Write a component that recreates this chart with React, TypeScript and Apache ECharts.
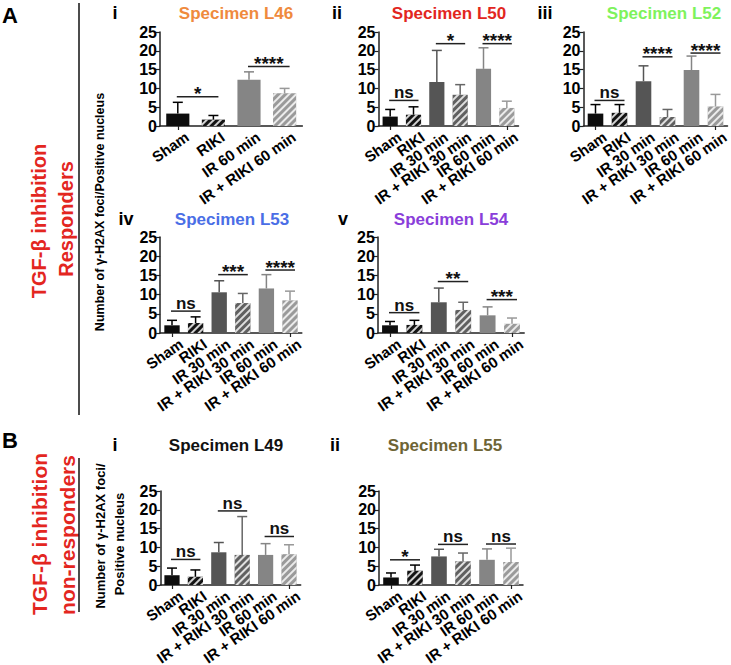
import React, { useEffect, useRef } from "react";
import * as echarts from "echarts";

const categories6 = ["Sham", "RIKI", "IR 30 min", "IR + RIKI 30 min", "IR 60 min", "IR + RIKI 60 min"];
const categories4 = ["Sham", "RIKI", "IR 60 min", "IR + RIKI 60 min"];
const yTickMax = 25;
const yTickStep = 5;

// Specimen L46
const l46Mean = [3.3, 1.7, 12.3, 8.7];
const l46Err = [3.0, 1.1, 2.1, 1.3];
const l46Sig: [number, number, number, string][] = [[0, 1, 7.8, "*"], [2, 3, 15.8, "****"]];
// Specimen L50
const l50Mean = [2.5, 3.0, 11.7, 8.3, 15.2, 4.8];
const l50Err = [1.9, 2.1, 8.4, 2.7, 5.6, 1.8];
const l50Sig: [number, number, number, string][] = [[0, 1, 6.8, "ns"], [2, 3, 21.9, "*"], [4, 5, 21.9, "****"]];
// Specimen L52
const l52Mean = [3.3, 3.5, 11.9, 2.4, 14.9, 5.2];
const l52Err = [2.4, 2.2, 4.1, 2.0, 3.7, 3.2];
const l52Sig: [number, number, number, string][] = [[0, 1, 6.8, "ns"], [2, 3, 18.4, "****"], [4, 5, 19.4, "****"]];
// Specimen L53
const l53Mean = [2.0, 2.6, 10.6, 7.8, 11.6, 8.5];
const l53Err = [1.3, 1.6, 3.0, 2.5, 3.6, 2.4];
const l53Sig: [number, number, number, string][] = [[0, 1, 5.7, "ns"], [2, 3, 15.2, "***"], [4, 5, 16.4, "****"]];
// Specimen L54
const l54Mean = [2.0, 2.1, 8.0, 6.0, 4.6, 2.4];
const l54Err = [1.0, 1.2, 3.7, 2.0, 2.2, 1.5];
const l54Sig: [number, number, number, string][] = [[0, 1, 5.3, "ns"], [2, 3, 13.4, "**"], [4, 5, 8.7, "***"]];
// Specimen L49
const l49Mean = [2.6, 2.2, 8.7, 8.0, 8.0, 8.2];
const l49Err = [1.9, 1.8, 2.6, 10.2, 3.0, 2.5];
const l49Sig: [number, number, number, string][] = [[0, 1, 6.8, "ns"], [2, 3, 19.7, "ns"], [4, 5, 12.9, "ns"]];
// Specimen L55
const l55Mean = [2.0, 3.8, 7.6, 6.3, 6.7, 6.1];
const l55Err = [1.2, 1.5, 1.9, 2.2, 2.9, 3.7];
const l55Sig: [number, number, number, string][] = [[0, 1, 6.7, "*"], [2, 3, 10.8, "ns"], [4, 5, 10.9, "ns"]];

const FONT = "'Liberation Sans', Arial, Helvetica, sans-serif";

const catStyle: Record<string, { fill: string; hatch: boolean; err: string }> = {
  "Sham": { fill: "#0d0d0d", hatch: false, err: "#000000" },
  "RIKI": { fill: "#141414", hatch: true, err: "#000000" },
  "IR 30 min": { fill: "#555555", hatch: false, err: "#555555" },
  "IR + RIKI 30 min": { fill: "#606060", hatch: true, err: "#666666" },
  "IR 60 min": { fill: "#858585", hatch: false, err: "#858585" },
  "IR + RIKI 60 min": { fill: "#9a9a9a", hatch: true, err: "#999999" },
};

const panels = [
  { num: "i", title: "Specimen L46", color: "#EF8A3D", cats: categories4, mean: l46Mean, err: l46Err, sig: l46Sig,
    grid: { left: 160, top: 32, width: 142.4, height: 94 }, tx: 236, ty: 13, nx: 115, ny: 13 },
  { num: "ii", title: "Specimen L50", color: "#E2261E", cats: categories6, mean: l50Mean, err: l50Err, sig: l50Sig,
    grid: { left: 378.5, top: 32, width: 140, height: 94 }, tx: 449, ty: 13, nx: 337, ny: 13 },
  { num: "iii", title: "Specimen L52", color: "#7EF25C", cats: categories6, mean: l52Mean, err: l52Err, sig: l52Sig,
    grid: { left: 583.5, top: 32, width: 144, height: 94 }, tx: 664, ty: 13, nx: 545, ny: 13 },
  { num: "iv", title: "Specimen L53", color: "#4A6EE6", cats: categories6, mean: l53Mean, err: l53Err, sig: l53Sig,
    grid: { left: 160.2, top: 237, width: 141.6, height: 96 }, tx: 232, ty: 219, nx: 126, ny: 219 },
  { num: "v", title: "Specimen L54", color: "#8A3EDA", cats: categories6, mean: l54Mean, err: l54Err, sig: l54Sig,
    grid: { left: 377.8, top: 237, width: 146.4, height: 96 }, tx: 451, ty: 219, nx: 343, ny: 219 },
  { num: "i", title: "Specimen L49", color: "#111111", cats: categories6, mean: l49Mean, err: l49Err, sig: l49Sig,
    grid: { left: 160.3, top: 491, width: 140.4, height: 94 }, tx: 226, ty: 445, nx: 115, ny: 445 },
  { num: "ii", title: "Specimen L55", color: "#6E6435", cats: categories6, mean: l55Mean, err: l55Err, sig: l55Sig,
    grid: { left: 379, top: 491, width: 144, height: 94 }, tx: 445, ty: 445, nx: 335, ny: 445 },
];

const LABEL_ROT = (35 * Math.PI) / 180;

function buildOption() {
  const grids: any[] = [];
  const xAxes: any[] = [];
  const yAxes: any[] = [];
  const series: any[] = [];
  const graphics: any[] = [];

  panels.forEach((p, i) => {
    grids.push({ ...p.grid, containLabel: false });
    xAxes.push({
      type: "category",
      gridIndex: i,
      data: p.cats,
      boundaryGap: true,
      axisLine: { show: true, lineStyle: { color: "#222", width: 1.5 } },
      axisTick: { show: true, alignWithLabel: true, length: 4, lineStyle: { color: "#222", width: 1.2 } },
      axisLabel: { show: false },
    });
    yAxes.push({
      type: "value",
      gridIndex: i,
      min: 0,
      max: yTickMax,
      interval: yTickStep,
      axisLine: { show: true, lineStyle: { color: "#222", width: 1.5 } },
      axisTick: { show: true, length: 4, lineStyle: { color: "#222", width: 1.2 } },
      splitLine: { show: false },
      axisLabel: { fontSize: 16, fontWeight: "bold", color: "#000", margin: 3, fontFamily: FONT },
    });
    series.push({
      type: "bar",
      xAxisIndex: i,
      yAxisIndex: i,
      barWidth: "65%",
      data: p.mean.map((v, j) => {
        const st = catStyle[p.cats[j]];
        return {
          value: v,
          itemStyle: {
            color: st.fill,
            decal: st.hatch
              ? { symbol: "rect", symbolSize: 1, dashArrayX: [1, 0], dashArrayY: [2, 2.2], rotation: -Math.PI / 4, color: "rgba(255,255,255,0.8)" }
              : "none",
          },
        };
      }),
    });
    const errColors = p.cats.map((c) => catStyle[c].err);
    series.push({
      type: "custom",
      xAxisIndex: i,
      yAxisIndex: i,
      z: 3,
      data: p.mean.map((v, j) => [j, v, v + p.err[j]]),
      renderItem: (params: any, api: any) => {
        const j = api.value(0);
        const a = api.coord([j, api.value(1)]);
        const b = api.coord([j, api.value(2)]);
        const c = errColors[j];
        return {
          type: "group",
          children: [
            { type: "line", shape: { x1: a[0], y1: a[1], x2: b[0], y2: b[1] }, style: { stroke: c, lineWidth: 1.5 } },
            { type: "line", shape: { x1: b[0] - 5, y1: b[1], x2: b[0] + 5, y2: b[1] }, style: { stroke: c, lineWidth: 1.5 } },
          ],
        };
      },
    });
    // category labels (rotated), placed through the axis scale
    const cats = p.cats;
    series.push({
      type: "custom",
      xAxisIndex: i,
      yAxisIndex: i,
      z: 5,
      clip: false,
      data: cats.map((c, j) => [j, 0]),
      renderItem: (params: any, api: any) => {
        const j = api.value(0);
        const a = api.coord([j, 0]);
        return {
          type: "text",
          x: a[0] + 5,
          y: a[1] + 3,
          rotation: LABEL_ROT,
          style: {
            text: cats[j],
            align: "right",
            verticalAlign: "top",
            fontSize: 15,
            fontWeight: "bold",
            fontFamily: FONT,
            fill: "#000",
          },
        };
      },
    });
    const sigLabels = p.sig.map((s) => s[3]);
    series.push({
      type: "custom",
      xAxisIndex: i,
      yAxisIndex: i,
      z: 4,
      clip: false,
      data: p.sig.map((s) => [s[0], s[2], s[1]]),
      renderItem: (params: any, api: any) => {
        const a = api.coord([api.value(0), api.value(1)]);
        const b = api.coord([api.value(2), api.value(1)]);
        const label = sigLabels[params.dataIndex];
        const x1 = a[0] - 1;
        const x2 = b[0] + 5;
        const isStar = label.indexOf("*") >= 0;
        return {
          type: "group",
          children: [
            { type: "line", shape: { x1, y1: a[1], x2, y2: a[1] }, style: { stroke: "#222", lineWidth: 1.5 } },
            {
              type: "text",
              x: (x1 + x2) / 2,
              y: isStar ? a[1] - 3 : a[1] + 1,
              style: {
                text: label,
                align: "center",
                verticalAlign: isStar ? "middle" : "bottom",
                fontSize: isStar ? 19 : 17,
                fontWeight: "bold",
                fontFamily: FONT,
                fill: "#111",
              },
            },
          ],
        };
      },
    });
    graphics.push({
      type: "text", x: p.tx, y: p.ty,
      style: { text: p.title, fill: p.color, fontSize: 17, fontWeight: "bold", fontFamily: FONT, align: "center", verticalAlign: "middle" },
    });
    graphics.push({
      type: "text", x: p.nx, y: p.ny,
      style: { text: p.num, fill: "#000", fontSize: 18, fontWeight: "bold", fontFamily: FONT, align: "center", verticalAlign: "middle" },
    });
  });

  const red = "#E3261F";
  const rotText = (text: string, x: number, y: number, size: number, fill: string) => ({
    type: "text", x, y, rotation: Math.PI / 2,
    style: { text, fill, fontSize: size, fontWeight: "bold", fontFamily: FONT, align: "center", verticalAlign: "middle" },
  });
  graphics.push(
    { type: "text", x: 10, y: 15, style: { text: "A", fill: "#000", fontSize: 22, fontWeight: "bold", fontFamily: FONT, align: "center", verticalAlign: "middle" } },
    { type: "text", x: 10, y: 440, style: { text: "B", fill: "#000", fontSize: 22, fontWeight: "bold", fontFamily: FONT, align: "center", verticalAlign: "middle" } },
    rotText("TGF-β inhibition", 39, 221, 20, red),
    rotText("Responders", 66, 219, 20, red),
    rotText("TGF-β inhibition", 39, 534, 21, red),
    rotText("non-responders", 67, 535, 21, red),
    { type: "line", shape: { x1: 79, y1: 3, x2: 79, y2: 415 }, style: { stroke: "#111", lineWidth: 1.5 } },
    { type: "line", shape: { x1: 79, y1: 458, x2: 79, y2: 612 }, style: { stroke: "#111", lineWidth: 1.5 } },
    rotText("Number of γ-H2AX foci/Positive nucleus", 100, 212, 12.5, "#000"),
    rotText("Number of γ-H2AX foci/", 100, 536, 13, "#000"),
    rotText("Positive nucleus", 119, 544, 13, "#000"),
  );

  return {
    animation: false,
    backgroundColor: "#ffffff",
    textStyle: { fontFamily: FONT },
    grid: grids,
    xAxis: xAxes,
    yAxis: yAxes,
    series,
    graphic: graphics,
  };
}

export default function App() {
  const ref = useRef<HTMLDivElement>(null);
  useEffect(() => {
    if (!ref.current) return;
    const chart = echarts.init(ref.current, undefined, { renderer: "svg" });
    chart.setOption(buildOption() as any);
    return () => chart.dispose();
  }, []);
  return <div ref={ref} style={{ position: "absolute", left: 0, top: 0, width: 731, height: 665 }} />;
}
